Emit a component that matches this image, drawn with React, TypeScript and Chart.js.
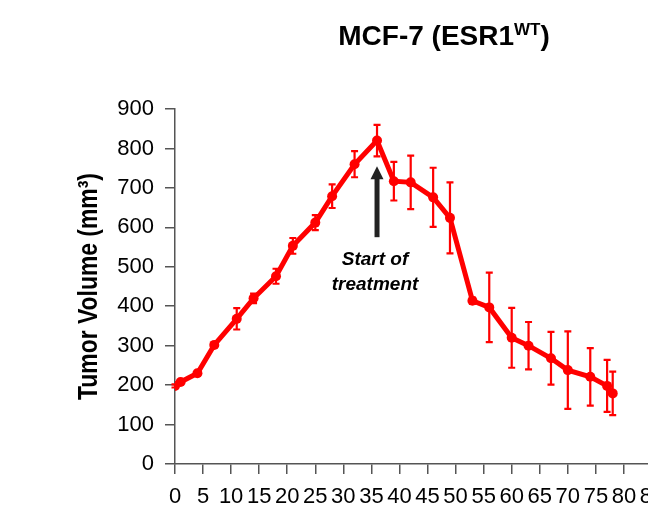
import React, { useEffect, useRef } from "react";
import { Chart, registerables } from "chart.js";

Chart.register(...registerables);

// ---- data ----
const days = [0, 1, 4, 7, 11, 14, 18, 21, 25, 28, 32, 36, 39, 42, 46, 49, 53, 56, 60, 63, 67, 70, 74, 77, 78];
const tumorVolume = [198, 208, 230, 302, 368, 420, 476, 553, 612, 679, 760, 820, 717, 714, 676, 624, 414, 397, 320, 300, 268, 238, 221, 198, 179];
const tumorError = [4, 4, 6, 6, 27, 12, 19, 20, 19, 30, 33, 40, 49, 68, 75, 90, 8, 88, 76, 60, 67, 98, 73, 66, 55];
const yTicks = [0, 100, 200, 300, 400, 500, 600, 700, 800, 900];
const xTicks = [0, 5, 10, 15, 20, 25, 30, 35, 40, 45, 50, 55, 60, 65, 70, 75, 80, 85];

// annotation (in data units)
const arrowDay = 36;
const arrowFrom = 575;
const arrowTo = 755;
const noteLines = ["Start of", "treatment"];
const noteLineValues = [504, 441];

const titleMain = "MCF-7 (ESR1";
const titleSup = "WT";
const titleEnd = ")";
const yTitle = "Tumor Volume (mm³)";

const RED = "#ff0000";
const AXIS = "#555555";
const NARROW = '"Liberation Sans Narrow", "Arial Narrow", "Liberation Sans", Arial, sans-serif';
const SANS = '"Liberation Sans", Arial, Helvetica, sans-serif';

const W = 690;
const H = 525;

const errorBarPlugin = {
  id: "errorBars",
  beforeDatasetsDraw(chart: any) {
    const ctx = chart.ctx;
    const xs = chart.scales.x;
    const ys = chart.scales.y;
    ctx.save();
    ctx.strokeStyle = RED;
    ctx.lineWidth = 2.2;
    for (let i = 0; i < days.length; i++) {
      const px = xs.getPixelForValue(days[i]);
      const top = ys.getPixelForValue(tumorVolume[i] + tumorError[i]);
      const bot = ys.getPixelForValue(tumorVolume[i] - tumorError[i]);
      ctx.beginPath();
      ctx.moveTo(px, top);
      ctx.lineTo(px, bot);
      ctx.moveTo(px - 3.5, top);
      ctx.lineTo(px + 3.5, top);
      ctx.moveTo(px - 3.5, bot);
      ctx.lineTo(px + 3.5, bot);
      ctx.stroke();
    }
    ctx.restore();
  },
};

const decorPlugin = {
  id: "decor",
  afterDraw(chart: any) {
    const ctx = chart.ctx;
    const xs = chart.scales.x;
    const ys = chart.scales.y;
    const area = chart.chartArea;
    ctx.save();

    // Title with superscript
    ctx.fillStyle = "#000";
    ctx.textBaseline = "alphabetic";
    ctx.font = `bold 28px ${SANS}`;
    const w1 = ctx.measureText(titleMain).width;
    const w3 = ctx.measureText(titleEnd).width;
    ctx.font = `bold 17px ${SANS}`;
    const w2 = ctx.measureText(titleSup).width;
    const total = w1 + w2 + w3;
    let tx = 444 - total / 2;
    ctx.font = `bold 28px ${SANS}`;
    ctx.textAlign = "left";
    ctx.fillText(titleMain, tx, 45);
    tx += w1;
    ctx.font = `bold 17px ${SANS}`;
    ctx.fillText(titleSup, tx, 35);
    tx += w2;
    ctx.font = `bold 28px ${SANS}`;
    ctx.fillText(titleEnd, tx, 45);

    // Y axis title (condensed to match narrow face)
    ctx.save();
    ctx.translate(97, (area.top + area.bottom) / 2);
    ctx.rotate(-Math.PI / 2);
    ctx.font = `bold 27px ${SANS}`;
    const tw = ctx.measureText(yTitle).width;
    const sx = Math.min(1, 227 / tw);
    ctx.scale(sx, 1);
    ctx.textAlign = "center";
    ctx.textBaseline = "alphabetic";
    ctx.fillText(yTitle, 0, 0);
    ctx.restore();

    // Arrow
    const ax = xs.getPixelForValue(arrowDay);
    const ay0 = ys.getPixelForValue(arrowFrom);
    const ay1 = ys.getPixelForValue(arrowTo);
    ctx.strokeStyle = "#222";
    ctx.fillStyle = "#222";
    ctx.lineWidth = 5;
    ctx.beginPath();
    ctx.moveTo(ax, ay0);
    ctx.lineTo(ax, ay1 + 10);
    ctx.stroke();
    ctx.beginPath();
    ctx.moveTo(ax, ay1);
    ctx.lineTo(ax - 6.5, ay1 + 13);
    ctx.lineTo(ax + 6.5, ay1 + 13);
    ctx.closePath();
    ctx.fill();

    // Note text
    ctx.fillStyle = "#000";
    ctx.textAlign = "center";
    ctx.textBaseline = "alphabetic";
    ctx.font = `italic bold 19px ${SANS}`;
    for (let i = 0; i < noteLines.length; i++) {
      ctx.fillText(noteLines[i], ax - 2, ys.getPixelForValue(noteLineValues[i]));
    }
    ctx.restore();
  },
};

export default function App() {
  const ref = useRef<HTMLCanvasElement | null>(null);
  useEffect(() => {
    if (!ref.current) return;
    const chart = new Chart(ref.current, {
      type: "line",
      data: {
        datasets: [
          {
            data: days.map((d, i) => ({ x: d, y: tumorVolume[i] })),
            borderColor: RED,
            backgroundColor: RED,
            borderWidth: 5,
            pointRadius: 5,
            pointBorderWidth: 0,
            pointBackgroundColor: RED,
            tension: 0,
            fill: false,
          },
        ],
      },
      options: {
        responsive: false,
        animation: false,
        devicePixelRatio: 1,
        layout: { padding: { left: 0, top: 109, right: W - 652, bottom: 0 } },
        plugins: {
          legend: { display: false },
          title: { display: false },
          tooltip: { enabled: false },
        },
        scales: {
          x: {
            type: "linear",
            min: 0,
            max: 85,
            afterFit: (s: any) => {
              s.height = H - 464;
            },
            afterBuildTicks: (s: any) => {
              s.ticks = xTicks.map((v) => ({ value: v }));
            },
            grid: {
              display: true,
              drawOnChartArea: false,
              drawTicks: true,
              tickLength: 10,
              color: AXIS,
              lineWidth: 1.5,
            },
            border: { display: true, color: AXIS, width: 1.5 },
            ticks: {
              color: "#000",
              font: { family: NARROW, size: 22 },
              padding: 10,
              maxRotation: 0,
              autoSkip: false,
            },
          },
          y: {
            type: "linear",
            min: 0,
            max: 900,
            afterFit: (s: any) => {
              s.width = 175;
            },
            afterBuildTicks: (s: any) => {
              s.ticks = yTicks.map((v) => ({ value: v }));
            },
            grid: {
              display: true,
              drawOnChartArea: false,
              drawTicks: true,
              tickLength: 10,
              color: AXIS,
              lineWidth: 1.5,
            },
            border: { display: true, color: AXIS, width: 1.5 },
            ticks: {
              color: "#000",
              font: { family: NARROW, size: 22 },
              padding: 11,
              autoSkip: false,
            },
          },
        },
      },
      plugins: [errorBarPlugin, decorPlugin],
    });
    return () => chart.destroy();
  }, []);

  return (
    <div
      style={{
        position: "absolute",
        left: 0,
        top: 0,
        width: 648,
        height: 525,
        overflow: "hidden",
        background: "#fff",
      }}
    >
      <canvas ref={ref} width={W} height={H} style={{ display: "block", width: W, height: H }} />
    </div>
  );
}
